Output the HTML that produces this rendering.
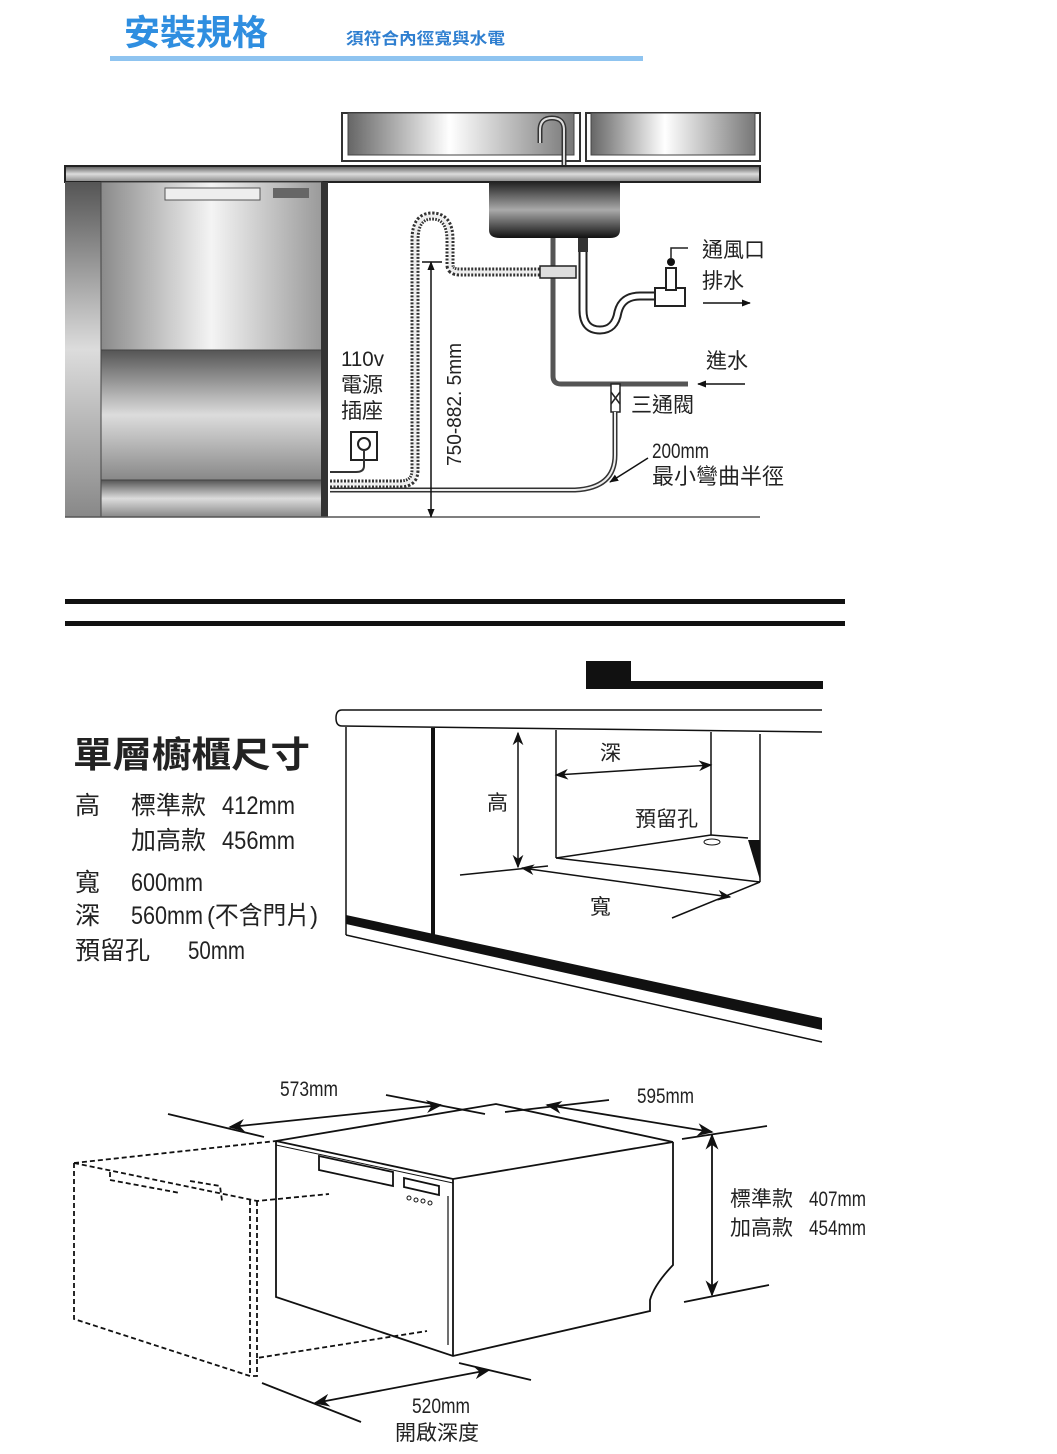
<!DOCTYPE html>
<html><head><meta charset="utf-8"><style>
html,body{margin:0;padding:0;background:#fff}
svg{display:block}
text{font-family:"Liberation Sans","Noto Sans CJK TC",sans-serif;fill:#222}
</style></head><body>
<svg width="1057" height="1454" viewBox="0 0 1057 1454" xmlns="http://www.w3.org/2000/svg">
<defs>
<linearGradient id="met" x1="0" y1="0" x2="1" y2="0">
<stop offset="0" stop-color="#8a8a8a"/><stop offset="0.5" stop-color="#f4f4f4"/><stop offset="1" stop-color="#9a9a9a"/></linearGradient>
<linearGradient id="metv" x1="0" y1="0" x2="0" y2="1">
<stop offset="0" stop-color="#555"/><stop offset="0.5" stop-color="#dcdcdc"/><stop offset="1" stop-color="#888"/></linearGradient>
<linearGradient id="sink" x1="0" y1="0" x2="0" y2="1">
<stop offset="0" stop-color="#222"/><stop offset="0.5" stop-color="#aaa"/><stop offset="1" stop-color="#111"/></linearGradient>
<linearGradient id="win" x1="0" y1="0" x2="1" y2="0">
<stop offset="0" stop-color="#666"/><stop offset="0.45" stop-color="#fff"/><stop offset="1" stop-color="#777"/></linearGradient>
<marker id="ah" viewBox="0 0 10 10" refX="9" refY="5" markerWidth="9" markerHeight="9" orient="auto-start-reverse"><path d="M0,1 L10,5 L0,9 L3,5z" fill="#111"/></marker>
<marker id="as" viewBox="0 0 10 10" refX="9" refY="5" markerWidth="6" markerHeight="6" orient="auto-start-reverse"><path d="M0,1 L10,5 L0,9z" fill="#111"/></marker>
</defs>

<!-- header -->
<text x="124" y="45" font-size="35" font-weight="bold" style="fill:#2f8ee0" textLength="144" lengthAdjust="spacingAndGlyphs">安裝規格</text>
<text x="346" y="44" font-size="16" font-weight="bold" style="fill:#2f7fd0" textLength="159" lengthAdjust="spacingAndGlyphs">須符合內徑寬與水電</text>
<rect x="110" y="56" width="533" height="5" fill="#8fc4f0"/>

<!-- top diagram -->
<rect x="342" y="113" width="238" height="48" fill="#fff" stroke="#333" stroke-width="2"/>
<rect x="348" y="113" width="226" height="42" fill="url(#win)" stroke="#444"/>
<rect x="586" y="113" width="174" height="48" fill="#fff" stroke="#333" stroke-width="2"/>
<rect x="591" y="113" width="164" height="42" fill="url(#win)" stroke="#444"/>
<path d="M564,167 L564,130 Q564,118 552,118 Q540,118 540,130 L540,143" fill="none" stroke="#333" stroke-width="5"/>
<path d="M564,167 L564,130 Q564,118 552,118 Q540,118 540,130 L540,143" fill="none" stroke="#ddd" stroke-width="2"/>
<rect x="65" y="166" width="695" height="16" fill="url(#metv)" stroke="#222" stroke-width="2"/>
<rect x="65" y="182" width="36" height="335" fill="url(#metv)"/>
<rect x="101" y="182" width="221" height="168" fill="url(#met)" stroke="#444"/>
<rect x="165" y="188" width="95" height="12" fill="#eee" stroke="#555"/>
<rect x="273" y="188" width="36" height="10" fill="#666"/>
<rect x="101" y="350" width="221" height="130" fill="url(#metv)" stroke="#444"/>
<rect x="101" y="480" width="221" height="37" fill="url(#metv)" stroke="#444"/>
<rect x="321" y="182" width="7" height="335" fill="#333"/>
<line x1="65" y1="517" x2="760" y2="517" stroke="#555" stroke-width="1.5"/>
<path d="M489,182 L620,182 L620,230 Q620,238 610,238 L500,238 Q489,238 489,230z" fill="url(#sink)"/>
<path d="M553,238 L553,376 Q553,384 561,384 L688,384" fill="none" stroke="#555" stroke-width="5"/>
<rect x="578" y="238" width="10" height="14" fill="#333"/>
<path d="M583,252 L583,310 Q583,330 600,330 Q615,330 618,312 Q622,296 640,296 L660,296" fill="none" stroke="#222" stroke-width="9"/>
<path d="M583,252 L583,310 Q583,330 600,330 Q615,330 618,312 Q622,296 640,296 L660,296" fill="none" stroke="#fff" stroke-width="5"/>
<rect x="655" y="288" width="30" height="18" fill="#fff" stroke="#222" stroke-width="2"/>
<rect x="666" y="268" width="10" height="22" fill="#fff" stroke="#222" stroke-width="2"/>
<circle cx="671" cy="262" r="4" fill="#111"/>
<polyline points="671,258 671,248 688,248" fill="none" stroke="#222" stroke-width="1.5"/>
<path d="M330,484 L400,484 Q415,484 415,470 L415,240 Q415,216 432,216 Q450,216 450,240 L450,265 Q450,272 460,272 L545,272" fill="none" stroke="#333" stroke-width="9" stroke-dasharray="2 1.5"/>
<path d="M330,484 L400,484 Q415,484 415,470 L415,240 Q415,216 432,216 Q450,216 450,240 L450,265 Q450,272 460,272 L545,272" fill="none" stroke="#eee" stroke-width="3"/>
<rect x="540" y="266" width="36" height="12" fill="#ddd" stroke="#222" stroke-width="1.5"/>
<rect x="611" y="384" width="9" height="28" fill="#fff" stroke="#222" stroke-width="1.5"/>
<path d="M611,392 L620,404 M620,392 L611,404" stroke="#222" stroke-width="1.5"/>
<path d="M615,412 L615,455 Q615,488 575,490 L330,490" fill="none" stroke="#333" stroke-width="5"/>
<path d="M615,412 L615,455 Q615,488 575,490 L330,490" fill="none" stroke="#eee" stroke-width="2"/>
<rect x="351" y="432" width="26" height="28" fill="#fff" stroke="#222" stroke-width="2"/>
<circle cx="364" cy="444" r="6" fill="none" stroke="#222" stroke-width="2"/>
<path d="M364,450 L364,466 Q364,472 356,472 L330,472" fill="none" stroke="#333" stroke-width="2"/>
<line x1="431" y1="262" x2="431" y2="517" stroke="#111" stroke-width="1.5" marker-start="url(#as)" marker-end="url(#as)"/>
<line x1="422" y1="262" x2="442" y2="262" stroke="#111" stroke-width="1.5"/>
<text transform="translate(461,466) rotate(-90)" font-size="20" textLength="123" lengthAdjust="spacingAndGlyphs">750-882. 5mm</text>
<text x="341" y="366" font-size="21" textLength="43" lengthAdjust="spacingAndGlyphs">110v</text>
<text x="341" y="392" font-size="21">電源</text>
<text x="341" y="418" font-size="21">插座</text>
<text x="702" y="257" font-size="21">通風口</text>
<text x="702" y="288" font-size="21">排水</text>
<line x1="703" y1="303" x2="750" y2="303" stroke="#111" stroke-width="1.5" marker-end="url(#as)"/>
<text x="706" y="368" font-size="21">進水</text>
<line x1="745" y1="384" x2="698" y2="384" stroke="#111" stroke-width="1.5" marker-end="url(#as)"/>
<text x="631" y="412" font-size="21">三通閥</text>
<text x="652" y="458" font-size="21" textLength="57" lengthAdjust="spacingAndGlyphs">200mm</text>
<text x="652" y="484" font-size="22">最小彎曲半徑</text>
<line x1="648" y1="458" x2="610" y2="482" stroke="#111" stroke-width="1.5" marker-end="url(#as)"/>

<rect x="65" y="599" width="780" height="5" fill="#111"/>
<rect x="65" y="621" width="780" height="5" fill="#111"/>

<!-- cabinet text -->
<text x="73" y="767" font-size="36" font-weight="bold" textLength="237" lengthAdjust="spacingAndGlyphs">單層櫥櫃尺寸</text>
<text x="75" y="814" font-size="25">高</text>
<text x="131" y="814" font-size="25">標準款</text>
<text x="222" y="814" font-size="25" textLength="73" lengthAdjust="spacingAndGlyphs">412mm</text>
<text x="131" y="849" font-size="25">加高款</text>
<text x="222" y="849" font-size="25" textLength="73" lengthAdjust="spacingAndGlyphs">456mm</text>
<text x="75" y="891" font-size="25">寬</text>
<text x="131" y="891" font-size="25" textLength="72" lengthAdjust="spacingAndGlyphs">600mm</text>
<text x="75" y="924" font-size="25">深</text>
<text x="131" y="924" font-size="25" textLength="72" lengthAdjust="spacingAndGlyphs">560mm</text>
<text x="207" y="924" font-size="25" textLength="111" lengthAdjust="spacingAndGlyphs">(不含門片)</text>
<text x="75" y="959" font-size="25">預留孔</text>
<text x="188" y="959" font-size="25" textLength="57" lengthAdjust="spacingAndGlyphs">50mm</text>

<!-- cabinet drawing -->
<rect x="586" y="661" width="45" height="28" fill="#111"/>
<rect x="631" y="681" width="192" height="8" fill="#111"/>
<path d="M822,710 L342,710 Q336,710 336,718 Q336,726 342,726 L822,732" fill="#fff" stroke="#111" stroke-width="1.5"/>
<line x1="346" y1="727" x2="346" y2="935" stroke="#111" stroke-width="1.5"/>
<line x1="433" y1="728" x2="433" y2="936" stroke="#111" stroke-width="4"/>
<path d="M346,915 L822,1018 L822,1030 L346,924z" fill="#111"/>
<path d="M346,935 L822,1042" stroke="#111" stroke-width="1.5"/>
<line x1="556" y1="730" x2="556" y2="858" stroke="#111" stroke-width="1.5"/>
<line x1="711" y1="732" x2="711" y2="835" stroke="#111" stroke-width="1.5"/>
<line x1="760" y1="734" x2="760" y2="882" stroke="#111" stroke-width="1.5"/>
<path d="M556,858 L711,835 L748,838" fill="none" stroke="#111" stroke-width="1.5"/>
<path d="M748,840 L760,840 L760,880z" fill="#111"/>
<ellipse cx="712" cy="842" rx="8" ry="3" fill="#fff" stroke="#111"/>
<line x1="556" y1="858" x2="760" y2="882" stroke="#111" stroke-width="1.5"/>
<line x1="460" y1="875" x2="548" y2="866" stroke="#111" stroke-width="1.5"/>
<line x1="672" y1="918" x2="760" y2="882" stroke="#111" stroke-width="1.5"/>
<line x1="518" y1="733" x2="518" y2="867" stroke="#111" stroke-width="1.5" marker-start="url(#ah)" marker-end="url(#ah)"/>
<line x1="556" y1="775" x2="711" y2="765" stroke="#111" stroke-width="1.5" marker-start="url(#ah)" marker-end="url(#ah)"/>
<line x1="522" y1="868" x2="730" y2="897" stroke="#111" stroke-width="1.5" marker-start="url(#ah)" marker-end="url(#ah)"/>
<text x="487" y="810" font-size="21">高</text>
<text x="600" y="760" font-size="21">深</text>
<text x="635" y="826" font-size="21">預留孔</text>
<text x="590" y="914" font-size="21">寬</text>

<!-- dishwasher -->
<g fill="none" stroke="#111" stroke-width="1.8" stroke-dasharray="5 3">
<path d="M74,1163 L276,1141"/>
<path d="M74,1163 L257,1201 L329,1194"/>
<path d="M74,1163 L74,1319 L250,1376 L257,1376 L257,1358 L427,1331"/>
<path d="M250,1200 L250,1376 M257,1201 L257,1358"/>
<path d="M110,1172 L110,1180 L180,1193 M190,1181 L220,1186 L222,1201"/>
</g>
<g fill="none" stroke="#111" stroke-width="1.8">
<path d="M276,1141 L496,1104 L673,1142 L453,1179z"/>
<path d="M276,1141 L276,1297 L453,1356 L650,1311 L650,1300 Q654,1285 673,1265 L673,1142"/>
<path d="M453,1179 L453,1356"/>
<path d="M276,1145 L453,1183" stroke-width="1"/>
<path d="M319,1156 L393,1172 L393,1186 L319,1170z"/>
<path d="M404,1178 L439,1186 L439,1195 L404,1187z"/>
<line x1="448" y1="1196" x2="448" y2="1345" stroke-width="1.2"/>
</g>
<g fill="#fff" stroke="#111" stroke-width="1"><circle cx="409" cy="1198" r="2"/><circle cx="416" cy="1200" r="2"/><circle cx="423" cy="1201" r="2"/><circle cx="430" cy="1203" r="2"/></g>
<g stroke="#111" stroke-width="1.8">
<line x1="168" y1="1114" x2="264" y2="1137"/>
<line x1="386" y1="1095" x2="485" y2="1114"/>
<line x1="230" y1="1127" x2="441" y2="1105" marker-start="url(#ah)" marker-end="url(#ah)"/>
<line x1="505" y1="1112" x2="609" y2="1100"/>
<line x1="682" y1="1139" x2="767" y2="1126"/>
<line x1="547" y1="1105" x2="712" y2="1132" marker-start="url(#ah)" marker-end="url(#ah)"/>
<line x1="712" y1="1135" x2="712" y2="1295" marker-start="url(#ah)" marker-end="url(#ah)"/>
<line x1="684" y1="1302" x2="769" y2="1285"/>
<line x1="262" y1="1383" x2="361" y2="1422"/>
<line x1="459" y1="1363" x2="531" y2="1380"/>
<line x1="315" y1="1403" x2="489" y2="1370" marker-start="url(#ah)" marker-end="url(#ah)"/>
</g>
<text x="280" y="1096" font-size="21" textLength="58" lengthAdjust="spacingAndGlyphs">573mm</text>
<text x="637" y="1103" font-size="21" textLength="57" lengthAdjust="spacingAndGlyphs">595mm</text>
<text x="730" y="1206" font-size="21">標準款</text>
<text x="809" y="1206" font-size="21" textLength="57" lengthAdjust="spacingAndGlyphs">407mm</text>
<text x="730" y="1235" font-size="21">加高款</text>
<text x="809" y="1235" font-size="21" textLength="57" lengthAdjust="spacingAndGlyphs">454mm</text>
<text x="412" y="1413" font-size="21" textLength="58" lengthAdjust="spacingAndGlyphs">520mm</text>
<text x="395" y="1440" font-size="21">開啟深度</text>
</svg>
</body></html>
